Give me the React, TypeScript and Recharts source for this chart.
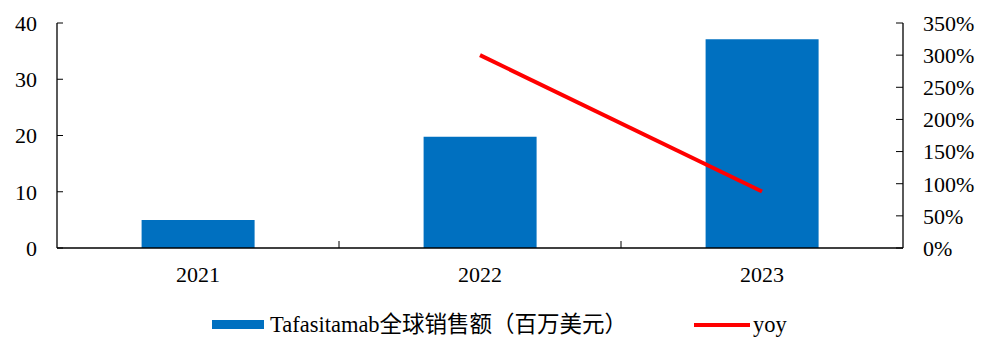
import React from "react";
import { ComposedChart, Bar, Line, XAxis, YAxis } from "recharts";

const categories = ["2021", "2022", "2023"];
const salesValues = [5.0, 19.8, 37.1];
const yoyValues: (number | null)[] = [null, 3.0, 0.88];
const leftTicks = [0, 10, 20, 30, 40];
const rightTicks = [0, 0.5, 1, 1.5, 2, 2.5, 3, 3.5];
const salesName = "Tafasitamab全球销售额（百万美元）";
const yoyName = "yoy";

const data = categories.map((c, i) => ({ year: c, sales: salesValues[i], yoy: yoyValues[i] }));

const SERIF = '"Liberation Serif", "Times New Roman", serif';
const MIXED = '"Liberation Serif", "Noto Sans CJK SC", serif';
const BLUE = "#0070C0";
const RED = "#FF0000";

const XTick = (props: any) => {
  const { x, y, payload, index, visibleTicksCount, width } = props;
  let band = 282;
  if (payload && payload.offset) band = payload.offset * 2;
  else if (width && visibleTicksCount) band = width / visibleTicksCount;
  const last = index === (visibleTicksCount || 3) - 1;
  return (
    <g>
      {!last && (
        <line x1={x + band / 2} x2={x + band / 2} y1={y} y2={y - 7} stroke="#000" strokeWidth={1} />
      )}
      <text x={x} y={y + 34} textAnchor="middle" fontFamily={SERIF} fontSize={22} fill="#000">
        {payload.value}
      </text>
    </g>
  );
};

export default function App() {
  return (
    <div style={{ position: "absolute", left: 0, top: 0, width: 992, height: 338 }}>
      <ComposedChart
        width={992}
        height={338}
        data={data}
        margin={{ top: 23, right: 0, bottom: 0, left: 0 }}
        barCategoryGap="30%"
      >
        <XAxis
          dataKey="year"
          xAxisId="x"
          height={90}
          tickSize={0}
          tickMargin={0}
          tickLine={false}
          axisLine={{ stroke: "#000", strokeWidth: 1.3 }}
          tick={<XTick />}
          interval={0}
        />
        <YAxis
          yAxisId="left"
          orientation="left"
          width={57}
          domain={[0, 40]}
          ticks={leftTicks}
          interval={0}
          tickSize={-6}
          tickMargin={26}
          axisLine={{ stroke: "#000", strokeWidth: 1.3 }}
          tickLine={{ stroke: "#000" }}
          tick={{ fontFamily: SERIF, fontSize: 22, fill: "#000" }}
        />
        <YAxis
          yAxisId="right"
          orientation="right"
          width={89}
          domain={[0, 3.5]}
          ticks={rightTicks}
          interval={0}
          tickSize={-7}
          tickMargin={27}
          axisLine={{ stroke: "#000", strokeWidth: 1.3 }}
          tickLine={{ stroke: "#000" }}
          tickFormatter={(v: number) => `${Math.round(v * 100)}%`}
          tick={{ fontFamily: SERIF, fontSize: 22, fill: "#000" }}
        />
        <Bar
          dataKey="sales"
          name={salesName}
          xAxisId="x"
          yAxisId="left"
          fill={BLUE}
          isAnimationActive={false}
        />
        <Line
          dataKey="yoy"
          name={yoyName}
          xAxisId="x"
          yAxisId="right"
          stroke={RED}
          strokeWidth={4}
          dot={false}
          activeDot={false}
          connectNulls={false}
          isAnimationActive={false}
        />
      </ComposedChart>
      <svg
        width={992}
        height={338}
        style={{ position: "absolute", left: 0, top: 0, pointerEvents: "none" }}
      >
        <rect x={212} y={320} width={52} height={9} fill={BLUE} />
        <text x={270} y={332} fontSize={22.5} fontFamily={MIXED} fill="#000">
          {salesName}
        </text>
        <line x1={694} x2={750} y1={325} y2={325} stroke={RED} strokeWidth={4} />
        <text x={753} y={332} fontSize={22.5} fontFamily={SERIF} fill="#000">
          {yoyName}
        </text>
      </svg>
    </div>
  );
}
